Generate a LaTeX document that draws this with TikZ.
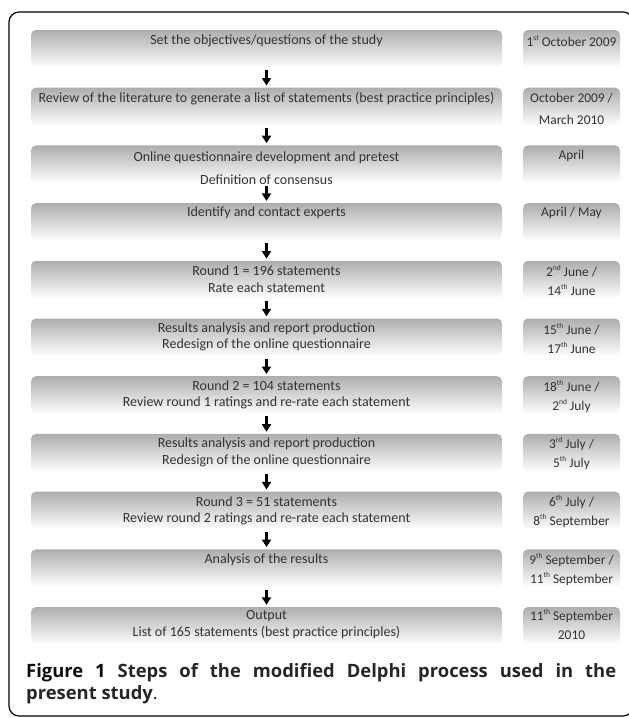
\documentclass[tikz,border=0pt]{standalone}
\usepackage{fontspec}
\setmainfont{Carlito}
\newfontfamily\capfont{Open Sans}
\usetikzlibrary{calc,arrows.meta}
\newcommand{\sups}[1]{\raisebox{0.45em}{\fontsize{7.5}{8}\selectfont #1}}
\begin{document}
\begin{tikzpicture}[x=1pt,y=-1pt,
  stepbox/.style={draw=none, rounded corners=5pt, top color=black!32, bottom color=white, minimum height=38pt, inner sep=0pt},
  mainbox/.style={stepbox, minimum width=471pt},
  datebox/.style={stepbox, minimum width=97pt},
  txt/.style={font=\fontsize{14}{15}\selectfont, text=black!80, inner sep=0pt},
  dtxt/.style={font=\fontsize{13.4}{15}\selectfont, text=black!80, inner sep=0pt},
  flow/.style={line width=2.2pt, -{Triangle[width=9pt,length=7.5pt]}, shorten <=2pt, shorten >=2pt}
]
\useasboundingbox (0,0) rectangle (629,718);
\fill[white] (0,0) rectangle (629,718);
\draw[line width=1.2pt, rounded corners=10pt] (9,12) rectangle (633,716);

% step boxes
\node[mainbox] (b1)  at (266.5,49)    {};
\node[mainbox] (b2)  at (266.5,106.7) {};
\node[mainbox] (b3)  at (266.5,164.4) {};
\node[mainbox] (b4)  at (266.5,222.1) {};
\node[mainbox] (b5)  at (266.5,279.8) {};
\node[mainbox] (b6)  at (266.5,337.5) {};
\node[mainbox] (b7)  at (266.5,395.2) {};
\node[mainbox] (b8)  at (266.5,452.9) {};
\node[mainbox] (b9)  at (266.5,510.6) {};
\node[mainbox] (b10) at (266.5,568.3) {};
\node[mainbox] (b11) at (266.5,626)   {};

% date boxes
\node[datebox] (d1)  at (571.5,49)    {};
\node[datebox] (d2)  at (571.5,106.7) {};
\node[datebox] (d3)  at (571.5,164.4) {};
\node[datebox] (d4)  at (571.5,222.1) {};
\node[datebox] (d5)  at (571.5,279.8) {};
\node[datebox] (d6)  at (571.5,337.5) {};
\node[datebox] (d7)  at (571.5,395.2) {};
\node[datebox] (d8)  at (571.5,452.9) {};
\node[datebox] (d9)  at (571.5,510.6) {};
\node[datebox] (d10) at (571.5,568.3) {};
\node[datebox] (d11) at (571.5,626)   {};

% step texts
\node[txt] (t1)  at ($(b1.north)+(0,11)$)  {Set the objectives/questions of the study};
\node[txt] (t2)  at ($(b2.north)+(0,11)$)  {Review of the literature to generate a list of statements (best practice principles)};
\node[txt] (t3a) at ($(b3.north)+(0,13)$)  {Online questionnaire development and pretest};
\node[txt] (t3b) at ($(b3.north)+(0,35)$)  {Definition of consensus};
\node[txt] (t4)  at ($(b4.north)+(0,10)$)  {Identify and contact experts};
\node[txt] (t5a) at ($(b5.north)+(0,10)$)  {Round 1 = 196 statements};
\node[txt] (t5b) at ($(b5.north)+(0,27)$)  {Rate each statement};
\node[txt] (t6a) at ($(b6.north)+(0,10)$)  {Results analysis and report production};
\node[txt] (t6b) at ($(b6.north)+(0,27)$)  {Redesign of the online questionnaire};
\node[txt] (t7a) at ($(b7.north)+(0,10)$)  {Round 2 = 104 statements};
\node[txt] (t7b) at ($(b7.north)+(0,27)$)  {Review round 1 ratings and re-rate each statement};
\node[txt] (t8a) at ($(b8.north)+(0,10)$)  {Results analysis and report production};
\node[txt] (t8b) at ($(b8.north)+(0,27)$)  {Redesign of the online questionnaire};
\node[txt] (t9a) at ($(b9.north)+(0,10)$)  {Round 3 = 51 statements};
\node[txt] (t9b) at ($(b9.north)+(0,27)$)  {Review round 2 ratings and re-rate each statement};
\node[txt] (t10) at ($(b10.north)+(0,11)$) {Analysis of the results};
\node[txt] (t11a) at ($(b11.north)+(0,9.5)$) {Output};
\node[txt] (t11b) at ($(b11.north)+(0,26)$)  {List of 165 statements (best practice principles)};

% date texts
\node[dtxt] (e1)  at ($(d1.north)+(0,11)$)   {1\sups{st} October 2009};
\node[dtxt] (e2a) at ($(d2.north)+(0,11)$)   {October 2009 /};
\node[dtxt] (e2b) at ($(d2.north)+(0,32)$)   {March 2010};
\node[dtxt] (e3)  at ($(d3.north)+(0,11)$)   {April};
\node[dtxt] (e4)  at ($(d4.north)+(0,10)$)   {April / May};
\node[dtxt] (e5a) at ($(d5.north)+(0,10.5)$) {2\sups{nd} June /};
\node[dtxt] (e5b) at ($(d5.north)+(0,29.5)$) {14\sups{th} June};
\node[dtxt] (e6a) at ($(d6.north)+(0,10.5)$) {15\sups{th} June /};
\node[dtxt] (e6b) at ($(d6.north)+(0,29.5)$) {17\sups{th} June};
\node[dtxt] (e7a) at ($(d7.north)+(0,10.5)$) {18\sups{th} June /};
\node[dtxt] (e7b) at ($(d7.north)+(0,29.5)$) {2\sups{nd} July};
\node[dtxt] (e8a) at ($(d8.north)+(0,10.5)$) {3\sups{rd} July /};
\node[dtxt] (e8b) at ($(d8.north)+(0,29.5)$) {5\sups{th} July};
\node[dtxt] (e9a) at ($(d9.north)+(0,10.5)$) {6\sups{th} July /};
\node[dtxt] (e9b) at ($(d9.north)+(0,29.5)$) {8\sups{th} September};
\node[dtxt] (e10a) at ($(d10.north)+(0,10.5)$) {9\sups{th} September /};
\node[dtxt] (e10b) at ($(d10.north)+(0,29.5)$) {11\sups{th} September};
\node[dtxt] (e11a) at ($(d11.north)+(0,9.5)$)  {11\sups{th} September};
\node[dtxt] (e11b) at ($(d11.north)+(0,28.5)$) {2010};

% arrows
\foreach \a/\b in {b1/b2,b2/b3,b3/b4,b4/b5,b5/b6,b6/b7,b7/b8,b8/b9,b9/b10,b10/b11}
  \draw[flow] (\a.south) -- (\b.north);

% caption
\node[anchor=north west, text width=590pt, align=justify, inner sep=0pt,
      font=\capfont\fontsize{18.4}{22}\selectfont\bfseries, text=black!85] (cap) at (26,663)
  {{\color{black!95}Figure 1} Steps of the modified Delphi process used in the\linebreak present study{\mdseries.}};
\end{tikzpicture}
\end{document}
